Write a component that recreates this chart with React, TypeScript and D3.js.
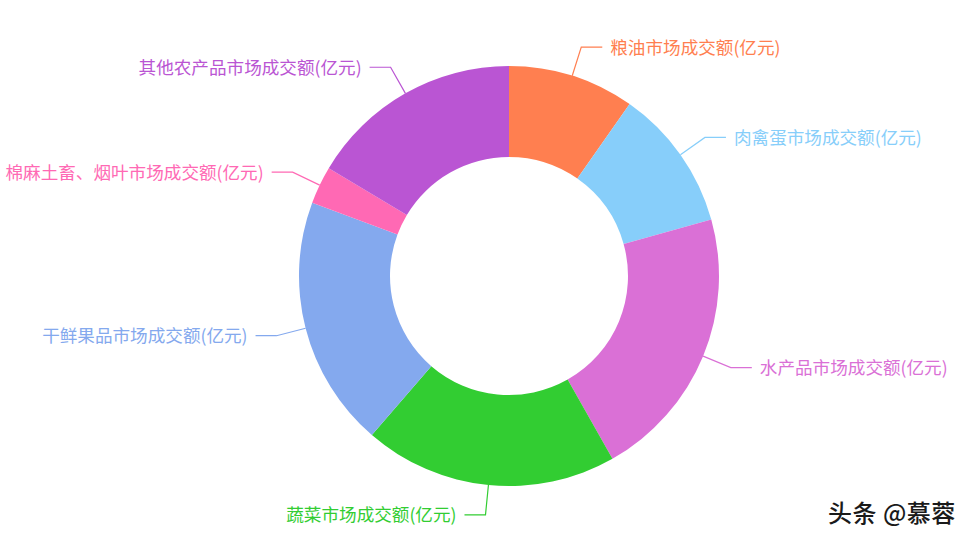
import React from "react";
import * as d3 from "d3";

const categories = [
  "粮油市场成交额(亿元)",
  "肉禽蛋市场成交额(亿元)",
  "水产品市场成交额(亿元)",
  "蔬菜市场成交额(亿元)",
  "干鲜果品市场成交额(亿元)",
  "棉麻土畜、烟叶市场成交额(亿元)",
  "其他农产品市场成交额(亿元)",
];
const values = [3990, 4480, 8660, 8000, 7930, 1190, 6730];
const colors = ["#ff7f50", "#87cefa", "#da70d6", "#32cd32", "#84a9ee", "#ff69b4", "#ba55d3"];

const W = 975;
const H = 539;
const cx = 509;
const cy = 276;
const outerR = 210;
const innerR = 119;
const lineR = 240;
const len2 = 21;
const gap = 8;

export default function App() {
  const data = categories.map((c, i) => ({ name: c, value: values[i], color: colors[i] }));
  const pie = d3.pie<any>().value((d) => d.value).sort(null).startAngle(0).endAngle(2 * Math.PI);
  const arcs = pie(data);
  const arc = d3.arc<any>().innerRadius(innerR).outerRadius(outerR);

  return (
    <svg
      width={W}
      height={H}
      style={{ position: "absolute", left: 0, top: 0, background: "#fff" }}
      fontFamily="'Noto Sans CJK SC', 'Noto Sans', sans-serif"
    >
      <g transform={`translate(${cx},${cy})`}>
        {arcs.map((a, i) => (
          <path key={i} d={arc(a) || ""} fill={a.data.color} />
        ))}
        {arcs.map((a, i) => {
          const m = (a.startAngle + a.endAngle) / 2;
          const s = Math.sin(m);
          const c = Math.cos(m);
          const x1 = outerR * s;
          const y1 = -outerR * c;
          const x2 = lineR * s;
          const y2 = -lineR * c;
          const dir = s >= 0 ? 1 : -1;
          const x3 = x2 + dir * len2;
          const tx = x3 + dir * gap;
          return (
            <g key={"l" + i}>
              <polyline
                points={`${x1},${y1} ${x2},${y2} ${x3},${y2}`}
                fill="none"
                stroke={a.data.color}
                strokeWidth={1.2}
              />
              <text
                x={tx}
                y={y2 - 1}
                fill={a.data.color}
                fontSize={17.6}
                textAnchor={dir > 0 ? "start" : "end"}
                dominantBaseline="central"
              >
                {a.data.name}
              </text>
            </g>
          );
        })}
      </g>
      <text x={828} y={522} fontSize={24} fontWeight={500} fill="#1a1a1a" letterSpacing={0.5}>
        头条 @慕蓉
      </text>
    </svg>
  );
}
